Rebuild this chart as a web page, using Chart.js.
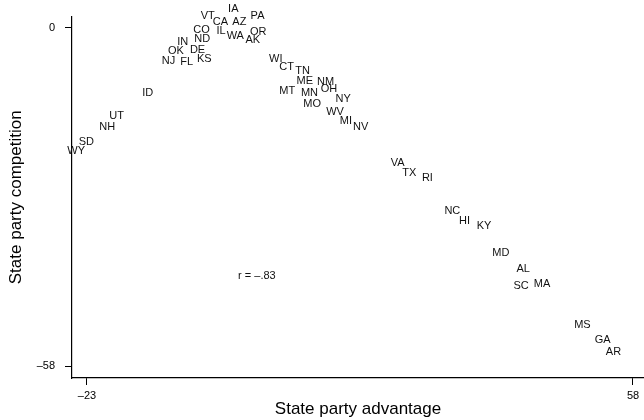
<!DOCTYPE html>
<html>
<head>
<meta charset="utf-8">
<script src="https://cdn.jsdelivr.net/npm/chart.js@4/dist/chart.umd.min.js"></script>
<style>
  html, body { margin: 0; padding: 0; background: #fff; }
  #wrap { width: 644px; height: 420px; }
</style>
</head>
<body>
<div id="wrap"><canvas id="c" width="644" height="420"></canvas></div>
<script>
// State abbreviations, drawn as text labels at each observation
const states = ['VT','CA','IA','AZ','PA','CO','IL','WA','OR','AK','ND','IN','OK','DE','NJ','FL','KS','ID',
  'WI','CT','TN','ME','NM','MT','MN','OH','NY','MO','WV','MI','NV',
  'UT','NH','SD','WY','VA','TX','RI','NC','HI','KY','MD','AL','SC','MA','MS','GA','AR'];

// State party advantage (x)
const advantage = [-5.1,-3.2,-1.3,-0.4,2.3,-6.0,-3.1,-1.0,2.4,1.6,-5.9,-8.8,-9.8,-6.6,-10.9,-8.2,-5.6,-14.0,
  5.0,6.6,9.0,9.3,12.4,6.7,10.0,12.9,15.0,10.4,13.8,15.4,17.6,
  -18.6,-20.0,-23.1,-24.6,23.1,24.8,27.5,31.2,33.0,35.9,38.4,41.7,41.4,44.5,50.5,53.5,55.1];

// State party competition (y)
const competition = [1.9,1.0,3.1,1.0,1.9,-0.4,-0.6,-1.4,-0.7,-2.1,-2.0,-2.5,-4.0,-3.8,-5.8,-5.9,-5.3,-11.2,
  -5.3,-6.8,-7.5,-9.1,-9.3,-10.8,-11.2,-10.6,-12.3,-13.1,-14.5,-16.0,-17.1,
  -15.2,-17.1,-19.6,-21.2,-23.2,-24.9,-25.7,-31.5,-33.2,-34.0,-38.7,-41.3,-44.2,-44.0,-51.0,-53.6,-55.6];

// Axis ticks
const xTicks = [-23, 58];
const yTicks = [0, -58];

// Correlation note
const rText = 'r = \u2013.83';
const rAt = { x: 2.2, y: -42.5 };

const fmt = v => (v < 0 ? '\u2013' + Math.abs(v) : String(v));

const labelPlugin = {
  id: 'stateLabels',
  afterDatasetsDraw(chart) {
    const ctx = chart.ctx;
    const meta = chart.getDatasetMeta(0);
    ctx.save();
    ctx.fillStyle = '#111';
    ctx.font = '11px "Liberation Sans", Arial, sans-serif';
    ctx.textAlign = 'center';
    ctx.textBaseline = 'middle';
    meta.data.forEach((pt, i) => {
      ctx.fillText(states[i], pt.x, pt.y);
    });
    const xs = chart.scales.x, ys = chart.scales.y;
    ctx.fillText(rText, xs.getPixelForValue(rAt.x), ys.getPixelForValue(rAt.y));
    ctx.restore();
  }
};

const axisCommon = {
  grid: { drawOnChartArea: false, drawTicks: true, tickLength: 7, color: '#000', lineWidth: 1 },
  border: { display: true, color: '#000', width: 1.2 },
};

new Chart(document.getElementById('c'), {
  type: 'scatter',
  data: {
    datasets: [{
      data: advantage.map((v, i) => ({ x: v, y: competition[i] })),
      pointRadius: 0,
      pointHoverRadius: 0,
      clip: false
    }]
  },
  options: {
    responsive: false,
    animation: false,
    devicePixelRatio: 1,
    layout: { padding: { top: 14, right: 0, left: 0, bottom: 0 } },
    plugins: { legend: { display: false }, tooltip: { enabled: false } },
    scales: {
      x: {
        ...axisCommon,
        type: 'linear',
        min: -25.225,
        max: 59.632,
        afterBuildTicks: s => { s.ticks = xTicks.map(v => ({ value: v })); },
        afterFit: s => { s.height = 42; },
        ticks: {
          color: '#000', padding: 4, maxRotation: 0, autoSkip: false,
          font: { family: '"Liberation Sans", Arial, sans-serif', size: 11 },
          callback: v => fmt(v)
        },
        title: {
          display: true, text: 'State party advantage', color: '#000',
          font: { family: '"Liberation Sans", Arial, sans-serif', size: 17 },
          padding: { top: 0, bottom: 0 }
        }
      },
      y: {
        ...axisCommon,
        type: 'linear',
        min: -60.047,
        max: 1.876,
        afterBuildTicks: s => { s.ticks = yTicks.map(v => ({ value: v })); },
        afterFit: s => { s.width = 72; },
        ticks: {
          color: '#000', padding: 10, autoSkip: false,
          font: { family: '"Liberation Sans", Arial, sans-serif', size: 11 },
          callback: v => fmt(v)
        },
        title: {
          display: true, text: 'State party competition', color: '#000',
          font: { family: '"Liberation Sans", Arial, sans-serif', size: 17 },
          padding: { top: 6, bottom: 0 }
        }
      }
    }
  },
  plugins: [labelPlugin]
});
</script>
</body>
</html>
